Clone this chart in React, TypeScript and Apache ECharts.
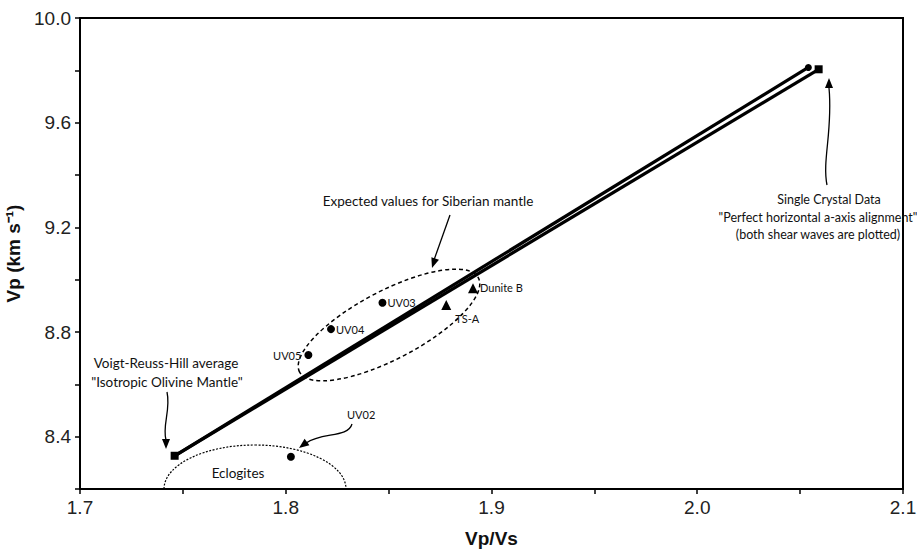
import React, { useEffect, useRef } from "react";
import * as echarts from "echarts";

// ---- data ----
const vrhPoint = [1.746, 8.327];
const crystalSquare = [2.059, 9.804];
const crystalCircle = [2.054, 9.811];

const xenolithNames = ["UV05", "UV04", "UV03", "UV02"];
const xenolithVpVs = [1.811, 1.822, 1.847, 1.8025];
const xenolithVp = [8.712, 8.811, 8.912, 8.323];

const triangleNames = ["TS-A", "Dunite B"];
const triangleVpVs = [1.878, 1.891];
const triangleVp = [8.903, 8.967];

const xMin = 1.7;
const xMax = 2.1;
const yMin = 8.2;
const yMax = 10.0;
const yLabelled = [8.4, 8.8, 9.2, 9.6, 10.0];

const ANNOT_FONT = "Lato, 'Open Sans', sans-serif";
const AXIS_FONT = "'Liberation Sans', Arial, sans-serif";

function arrowHead(tx: number, ty: number, fx: number, fy: number, len = 10, hw = 4) {
  const a = Math.atan2(ty - fy, tx - fx);
  const bx = tx - len * Math.cos(a);
  const by = ty - len * Math.sin(a);
  const px = -Math.sin(a) * hw;
  const py = Math.cos(a) * hw;
  return {
    type: "polygon",
    z: 10,
    shape: { points: [[tx, ty], [bx + px, by + py], [bx - px, by - py]] },
    style: { fill: "#000" },
  };
}

function curve(x1: number, y1: number, c1x: number, c1y: number, c2x: number, c2y: number, x2: number, y2: number, extra: any = {}) {
  return {
    type: "bezierCurve",
    z: 10,
    shape: { x1, y1, cpx1: c1x, cpy1: c1y, cpx2: c2x, cpy2: c2y, x2, y2 },
    style: { stroke: "#000", lineWidth: 1.3, fill: "none", ...extra },
  };
}

function label(text: string, x: number, y: number, size = 13, align = "center") {
  return {
    type: "text",
    z: 10,
    x,
    y,
    style: {
      text,
      fill: "#111",
      fontSize: size,
      fontFamily: ANNOT_FONT,
      textAlign: align,
      textVerticalAlign: "middle",
    },
  };
}

export default function App() {
  const ref = useRef<HTMLDivElement>(null);

  useEffect(() => {
    if (!ref.current) return;
    const chart = echarts.init(ref.current, undefined, { renderer: "svg" });

    const xenolithData = xenolithNames.map((n, i) => {
      const item: any = { name: n, value: [xenolithVpVs[i], xenolithVp[i]] };
      if (n === "UV05") item.label = { show: true, position: "left", distance: 3 };
      else if (n === "UV02") item.label = { show: false };
      else item.label = { show: true, position: "right", distance: 1 };
      return item;
    });
    const triData = triangleNames.map((n, i) => {
      const item: any = { name: n, value: [triangleVpVs[i], triangleVp[i]] };
      if (n === "TS-A") item.label = { show: true, position: "right", distance: 2, offset: [2, 13] };
      else item.label = { show: true, position: "right", distance: 2, offset: [0, -1] };
      return item;
    });

    const graphic: any[] = [
      // Siberian mantle dashed ellipse
      {
        type: "ellipse",
        z: 1,
        x: 389,
        y: 325,
        rotation: (27.8 * Math.PI) / 180,
        shape: { cx: 0, cy: 0, rx: 101, ry: 34 },
        style: { fill: "none", stroke: "#000", lineWidth: 1.5, lineDash: [4, 3] },
      },
      // Eclogites dotted half ellipse
      curve(164, 489, 164, 464.7, 204.7, 445, 255, 445, { lineDash: [2, 1.5], lineWidth: 1.2 }),
      curve(255, 445, 305.3, 445, 346, 464.7, 346, 489, { lineDash: [2, 1.5], lineWidth: 1.2 }),
      label("Eclogites", 238, 473, 13.5),

      // VRH annotation
      label("Voigt-Reuss-Hill average", 166, 363, 13.5),
      label('"Isotropic Olivine Mantle"', 167, 382, 13.5),
      curve(167, 392, 171, 410, 162, 425, 166, 440),
      arrowHead(166, 449, 166, 438),

      // UV02 annotation
      label("UV02", 347, 414, 11, "left"),
      curve(352, 424, 348, 438, 322, 432, 306, 443),
      arrowHead(299, 448, 307, 442),

      // Siberian annotation
      label("Expected values for Siberian mantle", 428, 201, 13.5),
      { type: "line", z: 10, shape: { x1: 450, y1: 215, x2: 434, y2: 260 }, style: { stroke: "#000", lineWidth: 1.3 } },
      arrowHead(432, 268, 436, 256),

      // Single crystal annotation
      curve(827, 185, 822, 160, 833, 130, 829, 88),
      arrowHead(829, 78, 829, 90),
      label("Single Crystal Data", 829, 199, 12.5),
      label('"Perfect horizontal a-axis alignment"', 818, 217, 12.5),
      label("(both shear waves are plotted)", 818, 234, 12.5),
    ];

    chart.setOption({
      animation: false,
      backgroundColor: "#fff",
      grid: {
        left: 80,
        right: 14,
        top: 18,
        bottom: 63,
        show: true,
        borderColor: "#000",
        borderWidth: 2,
        containLabel: false,
        outerBoundsMode: "none",
      },
      xAxis: {
        type: "value",
        min: xMin,
        max: xMax,
        interval: 0.1,
        name: "Vp/Vs",
        nameLocation: "middle",
        nameGap: 40,
        nameTextStyle: { fontSize: 19, fontWeight: "bold", fontFamily: AXIS_FONT, color: "#111" },
        axisLine: { show: true, lineStyle: { color: "#000", width: 2 } },
        axisTick: { show: true, inside: false, length: 5, lineStyle: { color: "#000", width: 1.5 } },
        minorTick: { show: true, splitNumber: 2, length: 5, lineStyle: { color: "#000", width: 1.5 } },
        splitLine: { show: false },
        axisLabel: {
          fontSize: 19,
          color: "#222",
          fontFamily: AXIS_FONT,
          margin: 9,
          formatter: (v: number) => v.toFixed(1),
        },
      },
      yAxis: {
        type: "value",
        min: yMin,
        max: yMax,
        interval: 0.2,
        name: "Vp (km s\u207B\u00B9)",
        nameLocation: "middle",
        nameGap: 54,
        nameTextStyle: { fontSize: 19, fontWeight: "bold", fontFamily: AXIS_FONT, color: "#111" },
        axisLine: { show: true, lineStyle: { color: "#000", width: 2 } },
        axisTick: { show: true, inside: false, length: 5, lineStyle: { color: "#000", width: 1.5 } },
        splitLine: { show: false },
        axisLabel: {
          fontSize: 19,
          color: "#222",
          fontFamily: AXIS_FONT,
          margin: 9,
          formatter: (v: number) =>
            yLabelled.some((l) => Math.abs(l - v) < 1e-6) ? v.toFixed(1) : "",
        },
      },
      series: [
        {
          type: "line",
          data: [vrhPoint, crystalSquare],
          showSymbol: false,
          symbol: "none",
          lineStyle: { color: "#000", width: 3.2 },
          z: 3,
        },
        {
          type: "line",
          data: [vrhPoint, crystalCircle],
          showSymbol: false,
          symbol: "none",
          lineStyle: { color: "#000", width: 3.2 },
          z: 3,
        },
        {
          type: "scatter",
          data: [vrhPoint, crystalSquare],
          symbol: "rect",
          symbolSize: 8,
          itemStyle: { color: "#000", opacity: 1 },
          z: 5,
        },
        {
          type: "scatter",
          data: [crystalCircle],
          symbol: "circle",
          symbolSize: 7,
          itemStyle: { color: "#000", opacity: 1 },
          z: 5,
        },
        {
          type: "scatter",
          data: xenolithData,
          symbol: "circle",
          symbolSize: 8,
          itemStyle: { color: "#000", opacity: 1 },
          label: {
            formatter: "{b}",
            fontSize: 11,
            fontFamily: ANNOT_FONT,
            color: "#111",
          },
          z: 5,
        },
        {
          type: "scatter",
          data: triData,
          symbol: "triangle",
          symbolSize: 10,
          itemStyle: { color: "#000", opacity: 1 },
          label: {
            formatter: "{b}",
            fontSize: 11,
            fontFamily: ANNOT_FONT,
            color: "#111",
          },
          z: 5,
        },
      ],
      graphic,
    });

    return () => chart.dispose();
  }, []);

  return (
    <div
      ref={ref}
      style={{ position: "absolute", left: 0, top: 0, width: 917, height: 552, background: "#fff" }}
    />
  );
}
